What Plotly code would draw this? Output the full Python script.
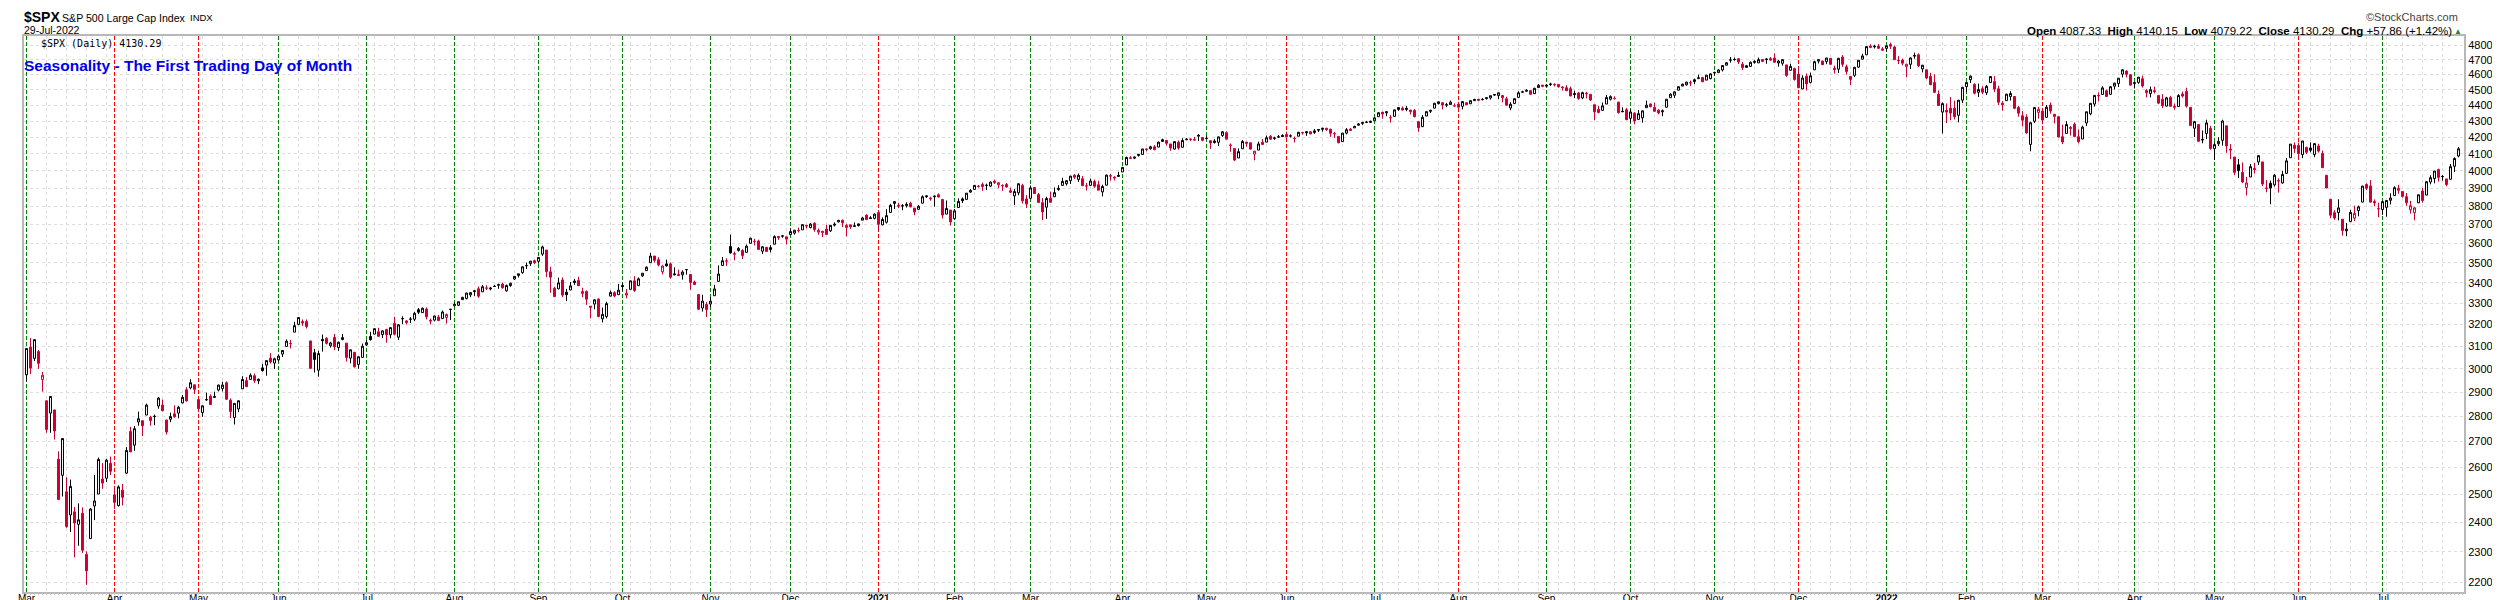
import pandas as pd
import plotly.graph_objects as go

# ---------------- DATA (S&P 500 daily O,H,L,C) ----------------
prev_close = 2954  # close before the first bar (28-Feb-2020)

mar20 = [(2974,3091,2945,3090),(3096,3137,2977,3003),(3046,3131,3034,3130),(3076,3083,3000,3024),(2954,2986,2902,2972),(2864,2864,2734,2747),(2813,2883,2734,2882),(2826,2826,2707,2741),(2631,2661,2479,2481),(2570,2711,2492,2711),(2509,2563,2381,2386),(2426,2554,2367,2529),(2437,2454,2281,2398),(2393,2467,2320,2409),(2432,2453,2296,2305),(2291,2301,2192,2237),(2344,2450,2344,2447),(2458,2571,2408,2476),(2501,2637,2501,2630),(2556,2616,2520,2541),(2559,2632,2545,2627),(2615,2641,2571,2585)]
apr20 = [(2498,2523,2447,2471),(2459,2533,2456,2527),(2515,2538,2460,2489),(2578,2677,2575,2664),(2739,2757,2658,2659),(2685,2761,2663,2750),(2777,2819,2762,2790),(2782,2782,2721,2762),(2805,2852,2805,2846),(2796,2802,2762,2783),(2799,2807,2764,2800),(2842,2879,2831,2875),(2846,2869,2820,2823),(2785,2786,2727,2737),(2788,2815,2776,2799),(2810,2845,2794,2798),(2813,2843,2792,2837),(2855,2888,2853,2878),(2910,2921,2861,2863),(2918,2955,2912,2940),(2931,2931,2892,2912)]
may20 = [(2869,2869,2822,2831),(2815,2844,2798,2843),(2869,2898,2864,2868),(2883,2891,2848,2848),(2878,2902,2876,2881),(2909,2932,2903,2930),(2915,2944,2903,2930),(2940,2946,2870,2870),(2866,2874,2793,2820),(2795,2853,2767,2853),(2830,2865,2817,2864),(2914,2968,2914,2954),(2949,2964,2922,2923),(2954,2980,2954,2972),(2970,2979,2939,2949),(2948,2957,2934,2955),(3004,3022,2988,2992),(3016,3036,2970,3036),(3047,3069,3023,3030),(3025,3049,2999,3044)]
jun20 = [(3039,3062,3032,3056),(3065,3081,3052,3081),(3099,3131,3099,3123),(3112,3129,3090,3112),(3164,3212,3164,3194),(3200,3233,3196,3232),(3213,3223,3193,3207),(3213,3223,3181,3190),(3124,3124,2999,3002),(3071,3088,2984,3041),(2994,3080,2966,3067),(3131,3153,3076,3125),(3136,3141,3108,3113),(3102,3120,3094,3115),(3140,3156,3083,3098),(3094,3121,3079,3118),(3139,3155,3127,3131),(3114,3115,3032,3050),(3047,3086,3024,3084),(3073,3074,3005,3009),(3019,3054,3000,3053),(3050,3112,3048,3100)]
jul20 = [(3106,3128,3101,3116),(3144,3166,3125,3130),(3155,3183,3155,3180),(3166,3184,3143,3145),(3153,3172,3137,3170),(3176,3180,3116,3152),(3152,3187,3136,3185),(3205,3235,3149,3155),(3141,3201,3128,3198),(3226,3238,3201,3227),(3208,3220,3199,3216),(3224,3234,3206,3225),(3224,3259,3215,3252),(3269,3277,3248,3257),(3255,3279,3253,3276),(3272,3280,3223,3236),(3219,3227,3200,3216),(3220,3241,3214,3239),(3234,3244,3216,3218),(3227,3265,3227,3258),(3232,3251,3204,3246),(3270,3272,3220,3271)]
aug20 = [(3288,3303,3285,3295),(3290,3307,3286,3307),(3317,3331,3317,3328),(3323,3351,3318,3349),(3340,3353,3329,3351),(3356,3363,3335,3360),(3370,3381,3326,3334),(3355,3388,3355,3380),(3373,3387,3363,3373),(3369,3379,3362,3373),(3381,3388,3379,3382),(3387,3395,3370,3390),(3393,3400,3370,3375),(3360,3391,3355,3386),(3386,3400,3379,3397),(3418,3432,3413,3431),(3436,3444,3426,3444),(3450,3481,3444,3479),(3485,3501,3468,3485),(3495,3509,3484,3508),(3510,3515,3493,3500)]
sep20 = [(3507,3528,3495,3527),(3544,3588,3535,3581),(3565,3565,3427,3455),(3454,3479,3350,3427),(3372,3380,3329,3332),(3370,3425,3367,3399),(3413,3426,3329,3339),(3353,3369,3310,3341),(3364,3403,3364,3384),(3408,3419,3389,3401),(3411,3429,3384,3385),(3347,3375,3329,3357),(3357,3362,3292,3319),(3286,3286,3229,3281),(3296,3320,3271,3316),(3320,3323,3233,3237),(3226,3279,3209,3247),(3237,3307,3228,3298),(3334,3361,3333,3352),(3351,3358,3328,3335),(3341,3394,3340,3363)]
oct20 = [(3386,3397,3361,3381),(3339,3369,3324,3348),(3367,3410,3367,3409),(3409,3432,3355,3361),(3385,3426,3385,3419),(3434,3447,3428,3447),(3460,3482,3458,3477),(3500,3550,3500,3534),(3534,3534,3501,3512),(3515,3528,3481,3489),(3454,3489,3441,3483),(3494,3516,3480,3484),(3494,3502,3420,3427),(3439,3477,3436,3443),(3440,3465,3433,3436),(3439,3461,3415,3453),(3465,3466,3440,3465),(3441,3441,3365,3401),(3403,3410,3389,3391),(3342,3342,3269,3271),(3277,3341,3260,3310),(3294,3305,3234,3270)]
nov20 = [(3296,3330,3280,3310),(3336,3389,3336,3369),(3406,3486,3405,3443),(3486,3529,3486,3510),(3508,3522,3484,3509),(3583,3646,3547,3550),(3543,3557,3512,3546),(3563,3581,3557,3573),(3563,3569,3519,3537),(3553,3594,3553,3585),(3600,3629,3600,3627),(3610,3623,3589,3610),(3612,3619,3567,3568),(3559,3585,3544,3582),(3579,3581,3557,3558),(3567,3590,3553,3578),(3595,3642,3595,3635),(3636,3636,3618,3630),(3639,3644,3629,3638),(3634,3634,3594,3622)]
dec20 = [(3646,3678,3646,3662),(3654,3671,3645,3669),(3668,3683,3657,3667),(3671,3699,3671,3699),(3695,3697,3679,3692),(3683,3708,3679,3702),(3706,3712,3661,3673),(3659,3678,3645,3668),(3656,3666,3633,3663),(3675,3698,3646,3647),(3666,3695,3660,3695),(3696,3711,3689,3701),(3714,3725,3711,3722),(3722,3727,3686,3709),(3684,3703,3636,3695),(3698,3698,3676,3687),(3693,3711,3689,3690),(3694,3704,3689,3703),(3723,3741,3723,3735),(3750,3756,3723,3727),(3736,3745,3730,3732),(3733,3760,3727,3756)]
jan21 = [(3765,3770,3663,3701),(3698,3738,3695,3727),(3712,3783,3705,3748),(3765,3812,3765,3804),(3815,3827,3784,3825),(3803,3818,3789,3800),(3802,3811,3777,3801),(3802,3821,3792,3810),(3815,3824,3793,3796),(3789,3789,3750,3768),(3782,3805,3780,3799),(3816,3860,3816,3852),(3857,3861,3845,3853),(3844,3852,3830,3841),(3852,3859,3797,3855),(3863,3871,3848,3850),(3837,3837,3732,3751),(3756,3831,3756,3787),(3778,3778,3694,3714)]
feb21 = [(3731,3784,3726,3774),(3792,3843,3792,3826),(3840,3848,3817,3830),(3837,3872,3837,3872),(3878,3895,3875,3887),(3893,3916,3893,3916),(3910,3918,3903,3911),(3921,3932,3885,3910),(3916,3926,3890,3916),(3912,3937,3906,3935),(3940,3950,3924,3933),(3919,3934,3900,3931),(3916,3922,3885,3914),(3921,3930,3903,3907),(3886,3903,3875,3877),(3857,3896,3806,3881),(3874,3929,3860,3925),(3916,3925,3814,3829),(3840,3861,3790,3811)]
mar21 = [(3843,3915,3843,3902),(3904,3906,3869,3870),(3864,3874,3819,3820),(3819,3844,3723,3768),(3794,3852,3730,3842),(3844,3881,3819,3821),(3852,3904,3852,3875),(3892,3917,3886,3899),(3916,3960,3916,3939),(3925,3945,3915,3943),(3943,3970,3924,3969),(3974,3981,3953,3963),(3950,3984,3936,3974),(3954,3970,3911,3915),(3913,3930,3887,3913),(3916,3955,3914,3941),(3938,3949,3902,3911),(3920,3942,3889,3889),(3879,3920,3854,3910),(3917,3978,3917,3975),(3969,3982,3943,3971),(3963,3968,3944,3959),(3967,3994,3967,3973)]
apr21 = [(3993,4021,3993,4020),(4034,4083,4034,4078),(4076,4086,4068,4074),(4074,4083,4068,4080),(4090,4098,4083,4097),(4096,4129,4096,4129),(4125,4132,4115,4128),(4130,4148,4124,4142),(4142,4152,4121,4125),(4140,4173,4140,4170),(4174,4191,4171,4185),(4180,4181,4150,4163),(4159,4159,4118,4135),(4128,4175,4126,4173),(4170,4180,4124,4135),(4139,4194,4139,4180),(4185,4194,4182,4188),(4188,4193,4176,4187),(4185,4202,4182,4183),(4206,4219,4177,4211),(4198,4198,4175,4181)]
may21 = [(4192,4209,4188,4193),(4179,4179,4129,4165),(4177,4188,4161,4168),(4169,4203,4147,4202),(4210,4238,4202,4233),(4228,4236,4188,4188),(4150,4162,4112,4152),(4131,4135,4057,4063),(4075,4132,4075,4113),(4130,4183,4130,4174),(4170,4172,4143,4163),(4166,4169,4126,4128),(4098,4117,4061,4116),(4122,4173,4122,4159),(4169,4189,4152,4156),(4170,4210,4170,4197),(4206,4213,4183,4188),(4192,4203,4184,4196),(4202,4213,4198,4201),(4211,4218,4204,4204)]
jun21 = [(4217,4234,4198,4202),(4207,4217,4198,4208),(4191,4204,4168,4193),(4206,4233,4206,4230),(4229,4232,4216,4227),(4234,4237,4208,4227),(4233,4237,4219,4220),(4229,4250,4220,4239),(4243,4248,4232,4247),(4248,4256,4234,4255),(4255,4257,4238,4247),(4249,4252,4202,4224),(4220,4232,4196,4222),(4205,4205,4164,4166),(4173,4226,4173,4225),(4225,4256,4217,4246),(4249,4257,4241,4242),(4257,4271,4257,4266),(4274,4286,4271,4281),(4285,4292,4275,4291),(4293,4301,4287,4292),(4291,4302,4288,4298)]
jul21 = [(4301,4321,4301,4320),(4327,4355,4327,4352),(4356,4356,4314,4344),(4351,4362,4330,4358),(4321,4337,4290,4321),(4329,4373,4329,4370),(4372,4387,4364,4385),(4381,4392,4367,4369),(4380,4394,4362,4374),(4369,4369,4341,4360),(4367,4375,4323,4327),(4296,4296,4233,4258),(4265,4337,4262,4323),(4331,4360,4331,4359),(4361,4370,4350,4367),(4381,4415,4381,4412),(4410,4423,4405,4422),(4416,4416,4373,4401),(4403,4415,4387,4401),(4404,4430,4404,4419),(4395,4412,4390,4395)]
aug21 = [(4407,4422,4385,4387),(4393,4424,4373,4423),(4416,4416,4400,4403),(4409,4430,4409,4429),(4429,4441,4429,4437),(4438,4439,4425,4432),(4436,4445,4430,4437),(4442,4449,4436,4448),(4446,4462,4436,4461),(4465,4468,4461,4468),(4462,4480,4438,4480),(4462,4462,4418,4448),(4441,4454,4398,4400),(4382,4419,4368,4406),(4411,4444,4407,4442),(4450,4490,4450,4480),(4484,4493,4482,4486),(4490,4502,4486,4496),(4494,4496,4469,4470),(4474,4513,4474,4509),(4514,4537,4514,4529),(4530,4531,4516,4523)]
sep21 = [(4529,4537,4522,4524),(4534,4546,4525,4537),(4532,4541,4521,4535),(4535,4535,4513,4520),(4518,4522,4494,4514),(4513,4530,4492,4493),(4507,4520,4458,4459),(4475,4493,4446,4469),(4479,4486,4435,4443),(4447,4487,4438,4481),(4477,4486,4444,4474),(4470,4472,4428,4433),(4403,4403,4306,4358),(4374,4395,4348,4354),(4367,4417,4367,4396),(4407,4465,4407,4449),(4438,4463,4430,4455),(4442,4457,4436,4443),(4420,4420,4346,4353),(4362,4386,4355,4359),(4371,4383,4306,4308)]
oct21 = [(4317,4375,4289,4357),(4349,4356,4279,4300),(4310,4369,4310,4346),(4320,4366,4290,4364),(4384,4430,4384,4400),(4407,4412,4386,4391),(4385,4416,4361,4361),(4368,4375,4342,4351),(4358,4373,4330,4364),(4387,4440,4387,4438),(4448,4476,4448,4471),(4464,4489,4447,4486),(4497,4520,4496,4520),(4524,4541,4524,4536),(4532,4551,4527,4550),(4546,4560,4524,4545),(4554,4573,4537,4566),(4579,4599,4569,4575),(4580,4585,4552,4552),(4563,4598,4563,4596),(4573,4608,4568,4605)]
nov21 = [(4611,4620,4595,4614),(4613,4635,4613,4631),(4631,4663,4621,4661),(4663,4683,4663,4680),(4699,4719,4681,4698),(4701,4715,4694,4702),(4707,4709,4671,4685),(4670,4685,4631,4647),(4659,4665,4648,4649),(4655,4688,4651,4683),(4689,4697,4673,4683),(4679,4715,4679,4701),(4702,4702,4684,4689),(4701,4709,4673,4705),(4708,4718,4694,4698),(4712,4744,4682,4683),(4678,4699,4653,4691),(4676,4703,4660,4701),(4665,4665,4585,4595),(4629,4673,4625,4655),(4640,4646,4560,4567)]
dec21 = [(4603,4653,4510,4513),(4505,4595,4505,4577),(4589,4608,4495,4538),(4548,4613,4541,4592),(4632,4694,4632,4687),(4691,4705,4675,4701),(4691,4695,4666,4667),(4688,4714,4670,4712),(4710,4710,4668,4669),(4643,4660,4607,4634),(4636,4713,4611,4710),(4719,4732,4652,4669),(4653,4667,4600,4621),(4588,4588,4531,4568),(4595,4651,4583,4649),(4650,4698,4646,4697),(4704,4741,4704,4726),(4734,4791,4734,4791),(4795,4807,4780,4786),(4789,4804,4778,4793),(4794,4809,4775,4779),(4775,4787,4766,4766)]
jan22 = [(4778,4797,4758,4797),(4805,4819,4774,4794),(4788,4798,4699,4701),(4693,4725,4671,4696),(4698,4708,4663,4677),(4655,4673,4582,4670),(4669,4714,4638,4713),(4729,4749,4707,4726),(4734,4744,4650,4659),(4638,4665,4615,4663),(4632,4632,4569,4577),(4588,4612,4530,4533),(4547,4602,4478,4483),(4471,4495,4395,4398),(4356,4417,4223,4410),(4367,4411,4287,4356),(4381,4453,4305,4350),(4381,4429,4310,4327),(4336,4433,4292,4432),(4432,4517,4414,4516)]
feb22 = [(4520,4550,4484,4547),(4566,4595,4544,4589),(4535,4543,4470,4477),(4483,4540,4452,4501),(4506,4522,4471,4484),(4480,4531,4465,4522),(4547,4590,4547,4587),(4553,4589,4484,4504),(4506,4526,4401,4419),(4413,4426,4365,4402),(4429,4473,4429,4471),(4456,4490,4430,4475),(4456,4456,4374,4380),(4385,4395,4327,4349),(4333,4362,4267,4305),(4325,4342,4222,4226),(4156,4295,4115,4289),(4298,4385,4287,4385),(4354,4389,4315,4374)]
mar22 = [(4363,4378,4280,4306),(4323,4401,4323,4387),(4401,4417,4346,4363),(4342,4342,4285,4329),(4327,4327,4200,4201),(4203,4277,4158,4171),(4223,4299,4223,4278),(4253,4268,4210,4260),(4280,4291,4200,4204),(4203,4248,4162,4173),(4189,4271,4188,4262),(4288,4358,4268,4358),(4345,4413,4336,4412),(4407,4465,4391,4463),(4462,4482,4424,4461),(4469,4522,4469,4512),(4493,4501,4456,4456),(4470,4521,4465,4520),(4523,4546,4501,4543),(4541,4576,4518,4576),(4603,4637,4581,4632),(4624,4628,4581,4602),(4599,4603,4530,4530)]
apr22 = [(4540,4549,4508,4546),(4548,4584,4539,4583),(4572,4593,4514,4525),(4494,4504,4450,4481),(4475,4521,4450,4500),(4494,4520,4475,4488),(4463,4464,4408,4413),(4438,4471,4381,4397),(4394,4454,4393,4447),(4449,4460,4391,4393),(4386,4410,4370,4392),(4391,4471,4391,4462),(4472,4488,4449,4459),(4489,4513,4384,4394),(4386,4386,4268,4272),(4255,4299,4201,4296),(4278,4278,4175,4175),(4187,4241,4163,4184),(4223,4308,4189,4288),(4254,4270,4124,4132)]
may22 = [(4131,4170,4063,4155),(4160,4200,4147,4175),(4181,4308,4149,4300),(4270,4270,4106,4147),(4128,4158,4068,4123),(4081,4081,3975,3991),(4035,4069,3958,4001),(3990,4049,3929,3935),(3904,3965,3859,3930),(3964,4039,3964,4024),(4013,4046,3984,4008),(4052,4091,4034,4089),(4052,4052,3912,3924),(3899,3946,3877,3901),(3928,3943,3810,3901),(3919,3982,3909,3974),(3943,3956,3875,3941),(3930,3999,3925,3979),(3985,4075,3985,4058),(4077,4158,4077,4158),(4151,4168,4105,4132)]
jun22 = [(4150,4167,4074,4101),(4095,4178,4074,4177),(4138,4143,4099,4109),(4135,4169,4109,4121),(4096,4165,4080,4161),(4147,4160,4107,4116),(4102,4119,4017,4018),(3974,3974,3900,3901),(3838,3838,3734,3750),(3764,3778,3725,3735),(3764,3838,3722,3790),(3728,3728,3640,3667),(3666,3708,3637,3675),(3715,3780,3715,3765),(3734,3802,3718,3760),(3775,3803,3744,3796),(3822,3914,3822,3912),(3921,3928,3890,3900),(3913,3946,3820,3822),(3825,3837,3799,3819),(3786,3819,3739,3785)]
jul22 = [(3781,3830,3752,3825),(3793,3832,3742,3831),(3832,3871,3809,3845),(3859,3911,3859,3903),(3888,3919,3869,3899),(3881,3881,3847,3854),(3852,3873,3802,3819),(3780,3829,3759,3802),(3764,3796,3722,3790),(3818,3864,3817,3863),(3884,3902,3819,3831),(3861,3940,3861,3937),(3935,3974,3922,3960),(3955,3999,3928,3999),(4007,4012,3938,3962),(3966,3975,3943,3967),(3953,3953,3911,3921),(3951,4040,3951,4024),(4026,4079,3993,4072),(4087,4140,4079,4130)]

months = [mar20, apr20, may20, jun20, jul20, aug20, sep20, oct20, nov20, dec20,
          jan21, feb21, mar21, apr21, may21, jun21, jul21, aug21, sep21, oct21, nov21, dec21,
          jan22, feb22, mar22, apr22, may22, jun22, jul22]
month_labels = ["Mar", "Apr", "May", "Jun", "Jul", "Aug", "Sep", "Oct", "Nov", "Dec",
                "<b>2021</b>", "Feb", "Mar", "Apr", "May", "Jun", "Jul", "Aug", "Sep", "Oct", "Nov", "Dec",
                "<b>2022</b>", "Feb", "Mar", "Apr", "May", "Jun", "Jul"]
holidays = ["2020-04-10", "2020-05-25", "2020-07-03", "2020-09-07", "2020-11-26", "2020-12-25",
            "2021-01-01", "2021-01-18", "2021-02-15", "2021-04-02", "2021-05-31", "2021-07-05",
            "2021-09-06", "2021-11-25", "2021-12-24", "2022-01-17", "2022-02-21", "2022-04-15",
            "2022-05-30", "2022-06-20", "2022-07-04"]
y_ticks = list(range(2200, 4900, 100))
header_quote = ("<b>Open</b> 4087.33\u00a0 <b>High</b> 4140.15\u00a0 <b>Low</b> 4079.22\u00a0 "
                "<b>Close</b> 4130.29\u00a0 <b>Chg</b> +57.86 (+1.42%)")
last_close_text = "4130.29"

# ---------------- derived series ----------------
rows = [r for m in months for r in m]
opens = [r[0] for r in rows]
highs = [r[1] for r in rows]
lows = [r[2] for r in rows]
closes = [r[3] for r in rows]
n = len(rows)
idx = list(range(n))
prevs = [prev_close] + closes[:-1]

month_start = []
k = 0
for m in months:
    month_start.append(k)
    k += len(m)
up_starts = [i for i in month_start if closes[i] >= prevs[i]]
down_starts = [i for i in month_start if closes[i] < prevs[i]]

# weekly grid (first trading day of each week)
days = [d for d in pd.bdate_range("2020-03-02", "2022-07-29") if d.strftime("%Y-%m-%d") not in holidays]
if len(days) == n:
    week_start = [i for i in range(n) if i == 0 or days[i].isocalendar()[1] != days[i - 1].isocalendar()[1]]
else:
    week_start = list(range(0, n, 5))

RED = "#cc0033"
black_i = [i for i in idx if closes[i] >= prevs[i]]
red_i = [i for i in idx if closes[i] < prevs[i]]

fig = go.Figure()
for sel, col in ((black_i, "black"), (red_i, RED)):
    fig.add_trace(go.Candlestick(
        x=[idx[i] for i in sel],
        open=[opens[i] for i in sel], high=[highs[i] for i in sel],
        low=[lows[i] for i in sel], close=[closes[i] for i in sel],
        increasing=dict(line=dict(color=col, width=1), fillcolor="white"),
        decreasing=dict(line=dict(color=col, width=1), fillcolor=col),
        whiskerwidth=0, showlegend=False, hoverinfo="skip"))

# helper (invisible) traces so that the overlay axes are drawn
for ax in ("x2", "x3", "x4"):
    fig.add_trace(go.Scatter(x=[0, n - 1], y=[3000, 3000], xaxis=ax, mode="markers",
                             marker=dict(opacity=0), showlegend=False, hoverinfo="skip"))

# ---------------- layout ----------------
W, H = 2500, 600
L, R, T, B = 16, 44, 28, 16
pw, ph = W - L - R, H - T - B


def px(x):
    return (x - L) / pw


def py(y):
    return (H - B - y) / ph


SANS = "Liberation Sans, Arial, sans-serif"

ann = [
    dict(text="<b>$SPX</b>", x=px(14), y=py(9), xanchor="left", font=dict(size=14, family=SANS)),
    dict(text="S&P 500 Large Cap Index", x=px(52), y=py(10), xanchor="left", font=dict(size=10.6, family=SANS)),
    dict(text="INDX", x=px(180), y=py(10), xanchor="left", font=dict(size=9.5, family=SANS)),
    dict(text="29-Jul-2022", x=px(14), y=py(22), xanchor="left", font=dict(size=10.5, family=SANS)),
    dict(text="\u00a9StockCharts.com", x=px(2452), y=py(9), xanchor="right", font=dict(size=11, family=SANS, color="#444444")),
    dict(text=header_quote, x=px(2446), y=py(23), xanchor="right", font=dict(size=11.5, family=SANS)),
    dict(text="\u25b2", x=px(2456), y=py(23), xanchor="right", font=dict(size=8, family=SANS, color="#2e7d32")),
    dict(text="$SPX (Daily) " + last_close_text, x=px(31), y=py(35), xanchor="left",
         font=dict(size=10, family="DejaVu Sans Mono, monospace")),
    dict(text="<b>Seasonality - The First Trading Day of Month</b>", x=px(14), y=py(57), xanchor="left",
         font=dict(size=15.5, family=SANS, color="#0000ee")),
]
for a in ann:
    a.update(xref="paper", yref="paper", yanchor="middle", showarrow=False)
    a["font"].setdefault("color", "black")

GRID = "#dedede"
x0 = -0.625
overlay_common = dict(overlaying="x", matches="x", anchor="y", side="bottom", showticklabels=False,
                      ticks="", showline=False, zeroline=False, automargin=False, tickmode="array")
fig.update_layout(
    width=W, height=H, margin=dict(l=L, r=R, t=T, b=B, pad=0, autoexpand=False),
    paper_bgcolor="white", plot_bgcolor="white", showlegend=False,
    annotations=ann,
    xaxis=dict(range=[x0, x0 + pw / 4.0], tickmode="array", tickvals=month_start, ticktext=month_labels,
               rangeslider=dict(visible=False), showgrid=False,
               minor=dict(tickmode="array", tickvals=week_start, showgrid=True, gridcolor=GRID,
                          griddash="3px,3px", gridwidth=1, ticks="", ticklen=0),
               ticks="", ticklen=0, ticklabelstandoff=-4,
               tickfont=dict(size=10, family=SANS, color="black"), automargin=False,
               showline=True, linecolor="#b8b8b8", linewidth=2, mirror=True, zeroline=False, fixedrange=True),
    xaxis2=dict(overlaying="x", matches="x", anchor="y", side="bottom", showticklabels=False, showgrid=False,
                tickmode="linear", tick0=0, dtick=1, ticks="outside", ticklen=2, tickwidth=1, tickcolor="#c8c8c8",
                showline=False, zeroline=False, automargin=False),
    xaxis3=dict(tickvals=up_starts, showgrid=True, gridcolor="#008000", gridwidth=1, griddash="4px,2px",
                **overlay_common),
    xaxis4=dict(tickvals=down_starts, showgrid=True, gridcolor="#ff0000", gridwidth=1, griddash="4px,2px",
                **overlay_common),
    yaxis=dict(type="log", range=[3.3363, 3.6871], side="right", tickmode="array", tickvals=y_ticks,
               ticktext=[str(v) for v in y_ticks], showgrid=True, gridcolor=GRID, griddash="3px,3px",
               ticks="", tickfont=dict(size=11, family=SANS, color="black"), automargin=False,
               showline=True, linecolor="#b8b8b8", linewidth=2, mirror=True, zeroline=False),
)

fig.write_html("out.html")
